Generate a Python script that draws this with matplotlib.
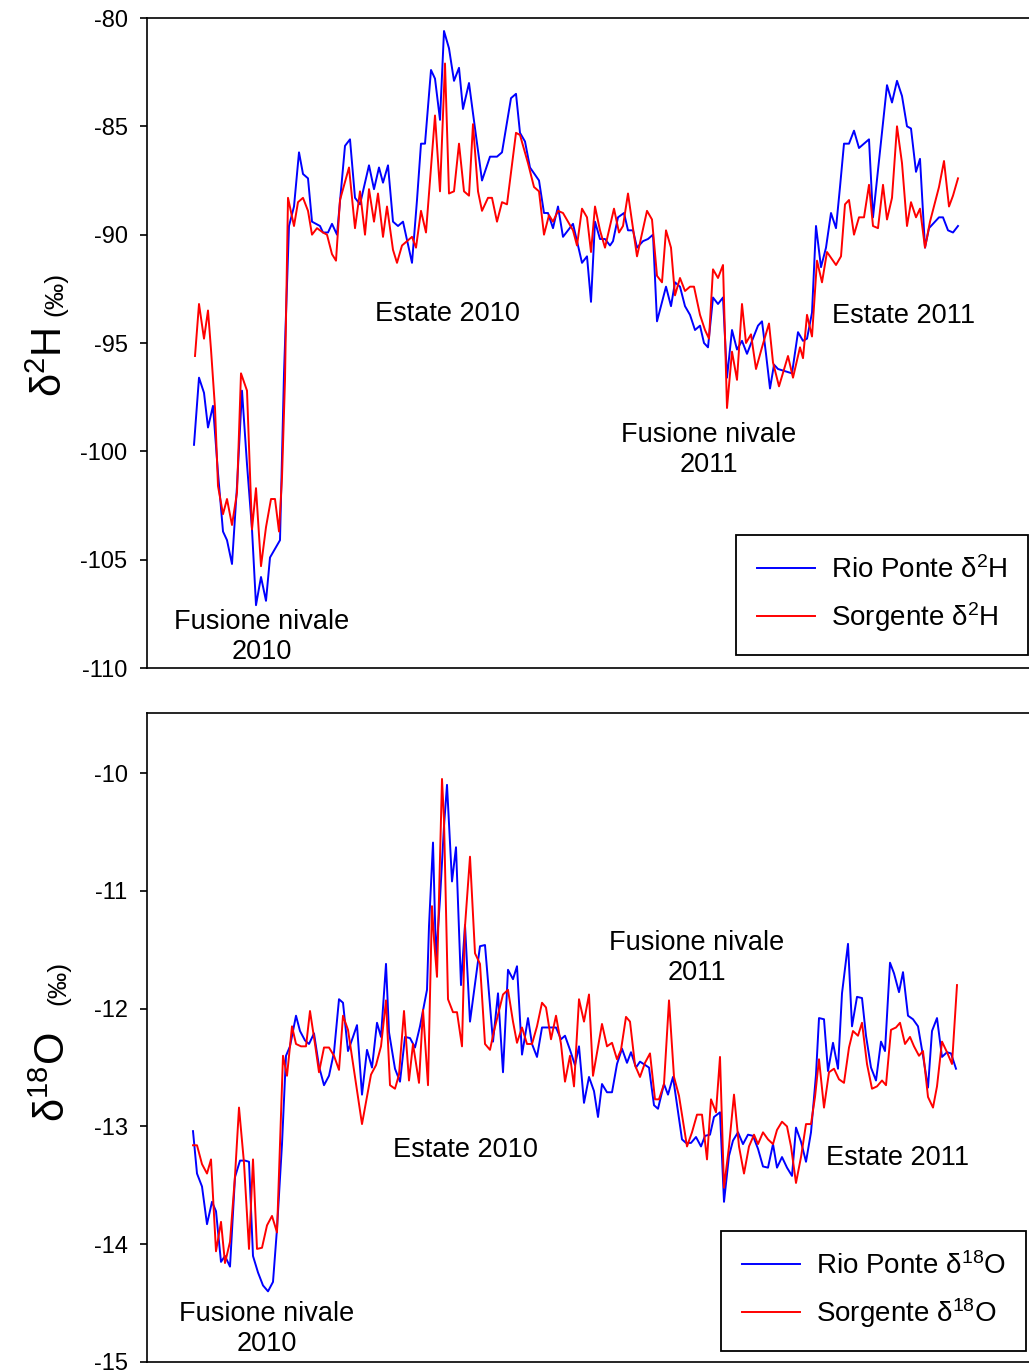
import matplotlib
matplotlib.use("Agg")
import matplotlib.pyplot as plt

plt.rcParams['font.family'] = ['Liberation Sans', 'DejaVu Sans']
plt.rcParams['mathtext.fontset'] = 'custom'
plt.rcParams['mathtext.rm'] = 'Liberation Sans'
plt.rcParams['mathtext.it'] = 'Liberation Sans'
plt.rcParams['mathtext.default'] = 'regular'
plt.rcParams['axes.unicode_minus'] = False

# sample position along the record (arbitrary units, no x labels in the figure)
# ---- delta 2H ----
rp_h_t = [1, 6, 11, 15, 20, 25, 30, 34, 39, 44, 49, 54, 59, 63, 68, 73, 77, 82, 87, 91,
          96, 101, 106, 110, 115, 119, 127, 130, 135, 139, 144, 152, 157, 162, 167, 176, 181, 186, 190, 195,
          200, 205, 210, 219, 224, 228, 232, 238, 242, 247, 251, 256, 261, 266, 270, 276, 280, 289, 297, 304,
          309, 318, 323, 327, 332, 337, 346, 351, 355, 360, 365, 370, 380, 389, 394, 398, 402, 407, 412, 417,
          420, 425, 431, 435, 440, 444, 450, 455, 460, 464, 469, 473, 478, 482, 487, 492, 497, 502, 507, 511,
          515, 520, 525, 530, 534, 539, 544, 549, 554, 559, 565, 569, 573, 577, 581, 585, 592, 599, 605, 610,
          614, 619, 623, 628, 633, 638, 643, 647, 651, 656, 661, 666, 676, 680, 694, 699, 704, 709, 714, 718,
          723, 727, 732, 736, 746, 750, 755, 760, 765]
rp_h = [-99.7, -96.6, -97.3, -98.9, -97.9, -101.0, -103.7, -104.1, -105.2, -101.6, -97.2, -100.6, -103.6, -107.1, -105.8, -106.9, -104.9, -104.5, -104.1, -96.4,
        -89.6, -88.7, -86.2, -87.2, -87.4, -89.4, -89.6, -89.9, -89.9, -89.5, -90.0, -85.9, -85.6, -88.3, -88.6, -86.8, -87.9, -86.9, -87.6, -86.8,
        -89.4, -89.6, -89.4, -91.3, -88.4, -85.8, -85.8, -82.4, -82.8, -84.7, -80.6, -81.4, -82.9, -82.3, -84.2, -83.0, -84.4, -87.5, -86.4, -86.4,
        -86.2, -83.7, -83.5, -85.3, -85.7, -86.9, -87.5, -89.0, -89.0, -89.7, -88.7, -90.1, -89.5, -91.3, -91.0, -93.1, -89.4, -90.2, -90.2, -90.5,
        -90.3, -89.2, -89.0, -89.8, -89.8, -90.6, -90.3, -90.2, -90.0, -94.0, -93.1, -92.4, -93.3, -92.2, -92.4, -93.3, -93.7, -94.4, -94.2, -95.0,
        -95.2, -92.9, -93.2, -92.9, -96.6, -94.4, -95.3, -94.9, -95.5, -94.9, -94.2, -94.0, -95.5, -97.1, -96.0, -96.2, -96.3, -96.4, -94.5, -94.9,
        -94.8, -93.6, -89.6, -91.5, -90.6, -89.0, -89.7, -87.8, -85.8, -85.8, -85.2, -86.0, -85.6, -89.2, -83.1, -83.9, -82.9, -83.6, -85.0, -85.1,
        -87.1, -86.5, -90.6, -89.7, -89.2, -89.2, -89.8, -89.9, -89.6]

so_h_t = [2, 6, 11, 15, 18, 22, 25, 30, 34, 39, 44, 48, 54, 59, 63, 68, 73, 78, 82, 86,
          89, 92, 95, 101, 105, 110, 115, 119, 124, 130, 134, 139, 143, 147, 156, 162, 167, 172, 176, 181,
          185, 190, 194, 200, 204, 209, 219, 223, 228, 233, 242, 247, 252, 256, 261, 266, 271, 276, 280, 285,
          289, 295, 299, 304, 309, 314, 323, 327, 335, 341, 346, 351, 356, 360, 365, 370, 380, 384, 389, 394,
          398, 402, 407, 412, 421, 426, 430, 435, 444, 454, 459, 464, 469, 473, 478, 482, 487, 492, 497, 501,
          507, 512, 516, 520, 525, 530, 534, 539, 544, 549, 553, 558, 563, 569, 576, 580, 586, 595, 600, 607,
          610, 614, 619, 624, 629, 634, 643, 648, 652, 656, 661, 666, 671, 676, 680, 685, 690, 694, 699, 704,
          709, 714, 718, 723, 727, 732, 737, 746, 751, 756, 760, 765]
so_h = [-95.6, -93.2, -94.8, -93.5, -95.3, -98.0, -101.6, -102.9, -102.2, -103.4, -101.9, -96.4, -97.2, -103.6, -101.7, -105.3, -103.5, -102.2, -102.2, -103.7,
        -101.2, -96.7, -88.3, -89.6, -88.5, -88.3, -88.9, -90.0, -89.7, -89.9, -90.0, -90.9, -91.2, -88.4, -86.9, -89.7, -88.0, -90.0, -87.9, -89.4,
        -88.1, -90.1, -88.7, -90.7, -91.3, -90.5, -90.1, -90.6, -88.9, -89.9, -84.5, -88.0, -82.1, -88.1, -88.0, -85.8, -88.0, -88.2, -84.9, -88.0,
        -88.9, -88.3, -88.3, -89.4, -88.5, -88.6, -85.3, -85.4, -86.7, -87.8, -88.0, -90.0, -89.1, -89.4, -88.9, -89.0, -89.8, -90.5, -88.8, -89.2,
        -90.8, -88.7, -89.8, -90.6, -88.8, -89.9, -89.6, -88.1, -91.0, -88.9, -89.3, -91.9, -92.2, -89.8, -90.6, -92.8, -92.0, -92.6, -92.4, -92.4,
        -93.7, -94.4, -94.8, -91.6, -92.0, -91.4, -98.0, -95.4, -96.7, -93.2, -95.0, -94.6, -96.2, -95.2, -94.1, -95.9, -97.0, -95.6, -96.6, -95.2,
        -95.7, -93.7, -94.7, -91.2, -92.2, -90.8, -91.4, -91.0, -88.6, -88.4, -90.0, -89.2, -89.2, -87.7, -89.6, -89.7, -87.7, -89.3, -88.3, -85.0,
        -86.7, -89.6, -88.5, -89.2, -88.8, -90.6, -89.4, -87.8, -86.6, -88.7, -88.2, -87.4]

# ---- delta 18O ----
rp_o_t = [0, 4, 9, 14, 19, 23, 28, 32, 37, 42, 47, 52, 56, 60, 65, 70, 75, 80, 84, 89,
          93, 97, 103, 107, 112, 116, 121, 126, 131, 136, 141, 146, 150, 155, 160, 164, 169, 174, 179, 184,
          188, 193, 196, 202, 207, 212, 217, 222, 227, 234, 236, 240, 243, 247, 251, 254, 259, 263, 268, 272,
          277, 287, 292, 300, 305, 310, 315, 320, 324, 329, 335, 339, 344, 349, 363, 368, 372, 377, 382, 386,
          391, 396, 401, 405, 409, 414, 419, 424, 429, 434, 438, 443, 447, 456, 461, 465, 471, 475, 480, 489,
          493, 498, 503, 508, 512, 517, 521, 527, 531, 536, 540, 545, 550, 555, 560, 565, 570, 575, 580, 584,
          589, 594, 599, 603, 608, 613, 618, 623, 626, 631, 635, 640, 645, 649, 655, 659, 664, 669, 673, 678,
          683, 688, 692, 697, 701, 706, 710, 715, 720, 725, 730, 735, 739, 744, 749, 754, 758, 763]
rp_o = [-13.04, -13.40, -13.51, -13.83, -13.64, -13.72, -14.15, -14.10, -14.19, -13.43, -13.29, -13.29, -13.30, -14.10, -14.24, -14.35, -14.40, -14.32, -13.87, -13.15,
        -12.40, -12.32, -12.06, -12.19, -12.27, -12.30, -12.21, -12.49, -12.65, -12.57, -12.37, -11.92, -11.95, -12.36, -12.24, -12.14, -12.73, -12.35, -12.50, -12.12,
        -12.24, -11.62, -12.20, -12.51, -12.62, -12.24, -12.25, -12.33, -12.15, -11.84, -11.30, -10.59, -11.57, -11.07, -10.45, -10.10, -10.92, -10.63, -11.80, -11.29,
        -12.11, -11.47, -11.46, -12.28, -11.87, -12.54, -11.67, -11.75, -11.64, -12.39, -12.08, -12.30, -12.41, -12.16, -12.16, -12.26, -12.23, -12.35, -12.48, -12.32,
        -12.80, -12.58, -12.70, -12.92, -12.64, -12.71, -12.71, -12.47, -12.34, -12.46, -12.37, -12.50, -12.45, -12.50, -12.82, -12.85, -12.64, -12.73, -12.58, -13.11,
        -13.14, -13.14, -13.09, -13.17, -13.08, -13.07, -12.92, -12.88, -13.64, -13.25, -13.12, -13.05, -13.15, -13.07, -13.08, -13.19, -13.34, -13.35, -13.15, -13.35,
        -13.26, -13.35, -13.42, -13.01, -13.13, -13.30, -13.05, -12.56, -12.08, -12.09, -12.53, -12.29, -12.51, -11.87, -11.45, -12.15, -11.90, -11.91, -12.23, -12.50,
        -12.61, -12.28, -12.36, -11.61, -11.70, -11.86, -11.69, -12.06, -12.09, -12.15, -12.40, -12.67, -12.19, -12.08, -12.41, -12.37, -12.38, -12.51]

so_o_t = [0, 4, 9, 14, 18, 23, 28, 32, 37, 42, 46, 51, 56, 60, 64, 69, 74, 79, 84, 90,
          94, 99, 103, 108, 113, 117, 122, 126, 131, 136, 141, 146, 150, 155, 169, 178, 183, 188, 193, 197,
          202, 206, 211, 216, 220, 226, 230, 235, 239, 241, 244, 249, 251, 255, 260, 264, 269, 272, 277, 282,
          287, 292, 297, 301, 310, 315, 320, 324, 329, 334, 339, 344, 349, 353, 358, 363, 368, 372, 377, 381,
          386, 391, 396, 400, 409, 414, 419, 424, 428, 433, 437, 442, 447, 452, 457, 462, 466, 471, 476, 481,
          486, 494, 499, 504, 509, 514, 518, 523, 527, 531, 536, 541, 546, 551, 556, 561, 565, 570, 575, 580,
          584, 589, 594, 598, 603, 608, 613, 618, 622, 626, 631, 636, 641, 646, 651, 656, 660, 665, 669, 674,
          679, 684, 689, 693, 698, 703, 707, 712, 717, 721, 726, 730, 735, 740, 744, 749, 754, 759, 764]
so_o = [-13.16, -13.16, -13.32, -13.40, -13.28, -14.06, -13.81, -14.16, -13.98, -13.42, -12.84, -13.31, -14.04, -13.28, -14.04, -14.03, -13.84, -13.76, -13.90, -12.40,
        -12.57, -12.15, -12.30, -12.32, -12.32, -12.02, -12.30, -12.54, -12.33, -12.33, -12.40, -12.52, -12.06, -12.18, -12.98, -12.56, -12.48, -12.32, -11.93, -12.65,
        -12.68, -12.56, -12.02, -12.61, -12.30, -12.63, -12.01, -12.65, -11.13, -11.41, -11.73, -10.05, -10.40, -11.92, -12.03, -12.03, -12.32, -11.30, -10.71, -11.53,
        -11.62, -12.30, -12.35, -12.19, -11.88, -11.84, -12.11, -12.29, -12.16, -12.30, -12.30, -12.15, -11.95, -11.99, -12.26, -12.06, -12.30, -12.62, -12.40, -12.66,
        -11.92, -12.11, -11.88, -12.57, -12.13, -12.32, -12.29, -12.43, -12.35, -12.07, -12.11, -12.48, -12.58, -12.46, -12.38, -12.77, -12.77, -12.64, -11.93, -12.58,
        -12.74, -13.17, -13.05, -12.90, -12.90, -13.28, -12.77, -12.88, -12.41, -13.52, -13.17, -12.73, -13.17, -13.40, -13.17, -13.07, -13.15, -13.05, -13.11, -13.15,
        -13.03, -12.96, -13.00, -13.17, -13.48, -13.26, -12.98, -12.98, -12.75, -12.43, -12.84, -12.54, -12.51, -12.60, -12.63, -12.33, -12.19, -12.23, -12.12, -12.47,
        -12.68, -12.66, -12.61, -12.65, -12.18, -12.16, -12.12, -12.30, -12.24, -12.32, -12.40, -12.36, -12.75, -12.84, -12.66, -12.28, -12.37, -12.47, -11.80]

# seasonal labels: (text, position, value)
labels_h = [("Estate 2010", 254, -93.66), ("Estate 2011", 711, -93.75),
            ("Fusione nivale\n2010", 69, -108.57), ("Fusione nivale\n2011", 516, -99.94)]
labels_o = [("Estate 2010", 272, -13.20), ("Estate 2011", 705, -13.27),
            ("Fusione nivale\n2010", 74, -14.72), ("Fusione nivale\n2011", 504, -11.57)]

fig = plt.figure(figsize=(10.29, 13.70), dpi=100)
ax1 = fig.add_axes([147/1029, 1-668/1370, 882/1029, 650/1370])
ax2 = fig.add_axes([147/1029, 1-1362/1370, 882/1029, 649/1370])

ax1.plot(rp_h_t, rp_h, color='#0000ff', lw=1.4, label='Rio Ponte δ$^{2}$H')
ax1.plot(so_h_t, so_h, color='#ff0000', lw=1.4, label='Sorgente δ$^{2}$H')
ax2.plot(rp_o_t, rp_o, color='#0000ff', lw=1.4, label='Rio Ponte δ$^{18}$O')
ax2.plot(so_o_t, so_o, color='#ff0000', lw=1.4, label='Sorgente δ$^{18}$O')

ax1.set_ylim(-110, -80)
ax1.set_yticks(range(-110, -79, 5))
ax2.set_ylim(-15, -9.49)
ax2.set_yticks(range(-15, -9))

for ax in (ax1, ax2):
    ax.set_xlim(-46, 836)
    ax.set_xticks([])
    ax.spines['right'].set_visible(False)
    for s in ('left', 'top', 'bottom'):
        ax.spines[s].set_linewidth(1.2)
    ax.tick_params(axis='y', direction='out', length=5, width=1.2, labelsize=17, pad=9)

for txt, x, y in labels_h:
    ax1.text(x, y, txt, fontsize=19.5, ha='center', va='center', multialignment='center')
for txt, x, y in labels_o:
    ax2.text(x, y, txt, fontsize=19.5, ha='center', va='center', multialignment='center')

leg_kw = dict(loc='lower right', fontsize=20, frameon=True, fancybox=False, framealpha=1,
              edgecolor='black', handlelength=2.1, handletextpad=0.55, labelspacing=0.6,
              borderpad=0.75, borderaxespad=0)
l1 = ax1.legend(bbox_to_anchor=(0.999, 0.02), **leg_kw)
l2 = ax2.legend(bbox_to_anchor=(0.997, 0.017), **leg_kw)
for lg in (l1, l2):
    lg.get_frame().set_linewidth(1.3)

# y labels: big symbol part + smaller per-mil part
lab_kw = dict(rotation=90, rotation_mode='anchor', ha='left', va='baseline')
ax1.text(-0.096, 0.417, 'δ$^{2}$H', transform=ax1.transAxes, fontsize=30, **lab_kw)
ax1.text(-0.096, 0.542, '(‰)', transform=ax1.transAxes, fontsize=19, **lab_kw)
ax2.text(-0.093, 0.37, 'δ$^{18}$O', transform=ax2.transAxes, fontsize=30, **lab_kw)
ax2.text(-0.093, 0.55, '(‰)', transform=ax2.transAxes, fontsize=19, **lab_kw)

fig.savefig('out.png', dpi=100)
